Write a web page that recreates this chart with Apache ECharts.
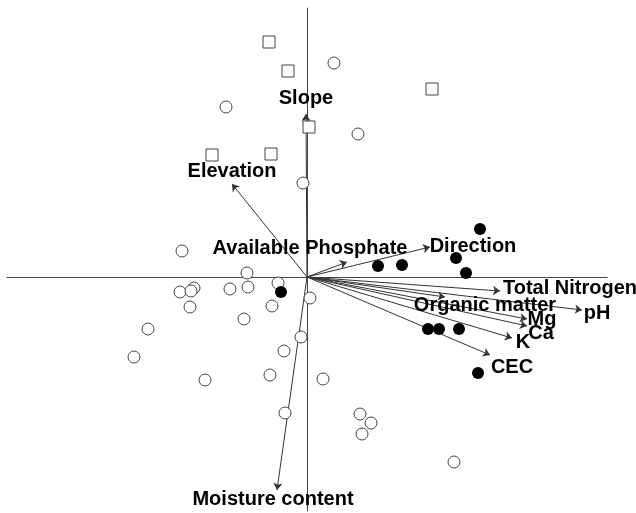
<!DOCTYPE html>
<html>
<head>
<meta charset="utf-8">
<title>CCA biplot</title>
<script src="https://cdn.jsdelivr.net/npm/echarts@6/dist/echarts.min.js"></script>
<style>
  html, body { margin: 0; padding: 0; background: #fff; }
  #chart { width: 636px; height: 513px; }
</style>
</head>
<body>
<div id="chart"></div>
<script>
// Environmental variables (biplot arrows) and their label anchors
const variables = ['Slope', 'Elevation', 'Available Phosphate', 'Direction', 'Total Nitrogen', 'pH',
  'Organic matter', 'Mg', 'Ca', 'K', 'CEC', 'Moisture content'];
const arrowX = [-0.01, -0.75, 0.40, 1.23, 1.93, 2.75, 1.38, 2.20, 2.20, 2.05, 1.83, -0.30];
const arrowY = [1.63, 0.93, 0.15, 0.30, -0.14, -0.33, -0.20, -0.42, -0.49, -0.61, -0.78, -2.13];
const labelX = [-0.01, -0.75, 0.03, 1.66, 2.63, 2.90, 1.78, 2.35, 2.34, 2.16, 2.05, -0.34];
const labelY = [1.79, 1.06, 0.29, 0.31, -0.11, -0.36, -0.28, -0.42, -0.56, -0.65, -0.90, -2.22];

// Site scores, grouped by community type
const openX = [0.27, -0.81, 0.51, -0.04, -1.25, -0.60, -0.29, -1.27, -1.13, -1.16, -0.77, -0.59, -1.17, -0.35,
  0.03, -0.63, -1.59, -0.06, -1.73, -0.23, -1.02, -0.37, 0.16, -0.22, 0.53, 0.64, 0.55, 1.47];
const openY = [2.14, 1.70, 1.43, 0.94, 0.26, 0.04, -0.06, -0.15, -0.11, -0.14, -0.12, -0.10, -0.30, -0.29,
  -0.21, -0.42, -0.52, -0.60, -0.80, -0.74, -1.03, -0.98, -1.02, -1.36, -1.37, -1.46, -1.57, -1.85];
const squareX = [-0.38, -0.19, 1.25, 0.02, -0.95, -0.36];
const squareY = [2.35, 2.06, 1.88, 1.50, 1.22, 1.23];
const filledX = [1.73, 1.49, 1.59, 0.71, 0.95, -0.26, 1.21, 1.32, 1.52, 1.71];
const filledY = [0.48, 0.19, 0.04, 0.11, 0.12, -0.15, -0.52, -0.52, -0.52, -0.96];

const zip = (xs, ys) => xs.map((x, i) => [x, ys[i]]);

const chart = echarts.init(document.getElementById('chart'), null, { renderer: 'canvas' });

const hiddenAxis = {
  type: 'value',
  axisLine: { show: true, onZero: true, lineStyle: { color: '#444', width: 1 } },
  axisTick: { show: false },
  axisLabel: { show: false },
  splitLine: { show: false }
};

const markerBase = {
  type: 'scatter',
  symbolSize: 12,
  z: 3,
  silent: true
};

chart.setOption({
  animation: false,
  backgroundColor: '#fff',
  grid: { left: 7, right: 29, top: 8, bottom: 2 },
  xAxis: Object.assign({}, hiddenAxis, { min: -3, max: 3 }),
  yAxis: Object.assign({}, hiddenAxis, { min: -2.34, max: 2.69 }),
  series: [
    {
      type: 'lines',
      coordinateSystem: 'cartesian2d',
      symbol: ['none', 'arrow'],
      symbolSize: 7,
      z: 2,
      silent: true,
      lineStyle: { color: '#333', width: 1, opacity: 1 },
      data: variables.map((v, i) => ({ name: v, coords: [[0, 0], [arrowX[i], arrowY[i]]] }))
    },
    Object.assign({}, markerBase, {
      symbol: 'circle',
      itemStyle: { color: '#fff', borderColor: '#444', borderWidth: 1, opacity: 1 },
      data: zip(openX, openY)
    }),
    Object.assign({}, markerBase, {
      symbol: 'rect',
      symbolSize: 12,
      itemStyle: { color: '#fff', borderColor: '#444', borderWidth: 1, opacity: 1 },
      data: zip(squareX, squareY)
    }),
    Object.assign({}, markerBase, {
      symbol: 'circle',
      itemStyle: { color: '#000', opacity: 1 },
      data: zip(filledX, filledY)
    }),
    {
      type: 'scatter',
      symbolSize: 0,
      z: 4,
      silent: true,
      itemStyle: { opacity: 1 },
      label: {
        show: true,
        position: 'inside',
        formatter: p => p.name,
        fontFamily: 'Liberation Sans, Arial, sans-serif',
        fontWeight: 'bold',
        fontSize: 20,
        color: '#000',
        textBorderWidth: 0
      },
      data: variables.map((v, i) => ({ name: v, value: [labelX[i], labelY[i]] }))
    }
  ]
});
</script>
</body>
</html>
